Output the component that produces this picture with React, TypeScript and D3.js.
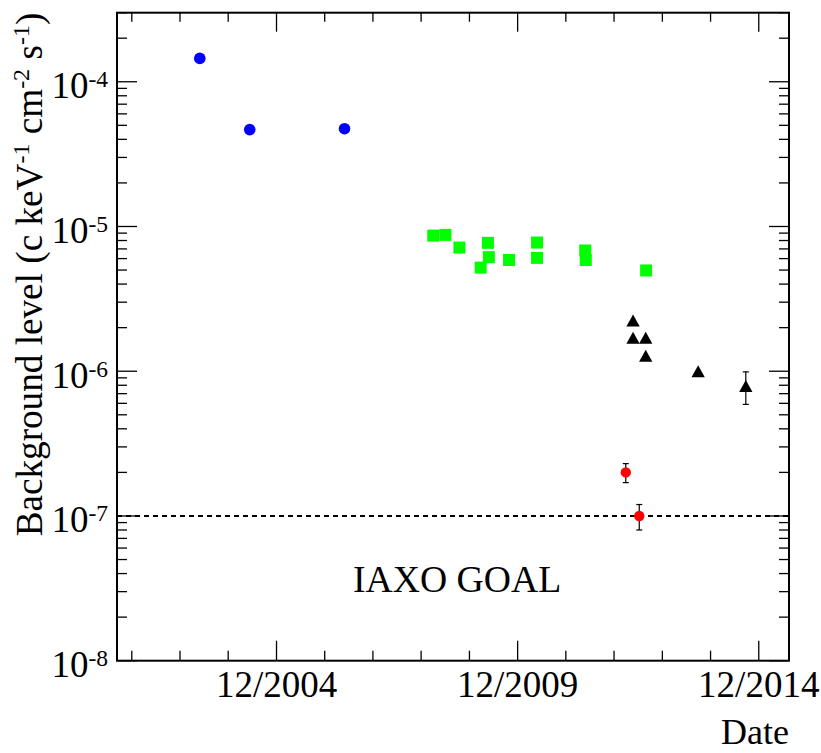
import React from "react";
import * as d3 from "d3";

// ---- data ----
const blueDates = ["2003-04-30", "2004-05-12", "2006-04-30"];
const blueValues = [1.45e-4, 4.67e-5, 4.74e-5];

const greenDates = [
  "2008-03-02", "2008-06-02", "2008-09-16", "2009-04-20", "2009-04-27", "2009-02-24",
  "2009-09-27", "2010-04-27", "2010-04-27", "2011-04-27", "2011-05-01", "2012-07-31",
];
const greenValues = [
  8.65e-6, 8.75e-6, 7.15e-6, 7.71e-6, 6.14e-6, 5.2e-6,
  5.87e-6, 7.75e-6, 6.07e-6, 6.83e-6, 5.87e-6, 4.97e-6,
];

const blackDates = ["2012-04-23", "2012-04-23", "2012-07-28", "2012-07-28", "2013-08-29", "2014-08-25"];
const blackValues = [2.24e-6, 1.7e-6, 1.7e-6, 1.28e-6, 1.0e-6, 7.9e-7];
const blackErrors = [0, 0, 0, 0, 0, 2.0e-7];

const redDates = ["2012-02-28", "2012-06-09"];
const redValues = [2.0e-7, 1.0e-7];
const redErrors = [3.0e-8, 2.0e-8];

const goalValue = 1e-7;
const goalLabel = "IAXO GOAL";

const xDomainDates = ["2001-08-11", "2015-07-18"];
const yDomainValues = [1e-8, 3e-4];

const xMajorTickDates = ["2004-12-01", "2009-12-01", "2014-12-01"];
const xMajorTickLabels = ["12/2004", "12/2009", "12/2014"];
const xMinorTickYears = [2001, 2002, 2003, 2005, 2006, 2007, 2008, 2010, 2011, 2012, 2013];
const yDecadeExponents = [-8, -7, -6, -5, -4];

const xTitle = "Date";

// ---- layout ----
const W = 821;
const H = 753;
const L = 117;
const R = 789;
const T = 12.7;
const B = 660.7;
const FONT = "'Liberation Serif', 'Times New Roman', serif";

export default function App() {
  const parse = d3.timeParse("%Y-%m-%d");
  const x = d3
    .scaleTime()
    .domain(xDomainDates.map((d) => parse(d) as Date))
    .range([L, R]);
  const y = d3.scaleLog().domain(yDomainValues).range([B, T]);

  // y minor ticks
  const yMinor: number[] = [];
  for (const e of [-8, -7, -6, -5, -4]) {
    for (let m = 2; m <= 9; m++) {
      const v = m * Math.pow(10, e);
      if (v <= yDomainValues[1] * 1.0001) yMinor.push(v);
    }
  }

  const xMaj = xMajorTickDates.map((d) => x(parse(d) as Date));
  const xMin = xMinorTickYears.map((yr) => x(new Date(yr, 11, 1)));

  const tickStroke = 1.3;
  const majLen = 20;
  const minLen = 10;

  const tri = (cx: number, cy: number, w: number, h: number) =>
    `M${cx - w / 2},${cy + h / 2}L${cx + w / 2},${cy + h / 2}L${cx},${cy - h / 2}Z`;

  const errBar = (cx: number, v: number, e: number, key: string) => {
    if (!e) return null;
    const y1 = y(v + e);
    const y2 = y(v - e);
    return (
      <g key={key} stroke="#000" strokeWidth={1.2}>
        <line x1={cx} x2={cx} y1={y1} y2={y2} />
        <line x1={cx - 3} x2={cx + 3} y1={y1} y2={y1} />
        <line x1={cx - 3} x2={cx + 3} y1={y2} y2={y2} />
      </g>
    );
  };

  return (
    <svg
      width={W}
      height={H}
      style={{ position: "absolute", left: 0, top: 0, display: "block", background: "#fff" }}
      fontFamily={FONT}
    >
      <rect x={0} y={0} width={W} height={H} fill="#fff" />

      {/* goal line */}
      <line
        x1={L}
        x2={R}
        y1={y(goalValue)}
        y2={y(goalValue)}
        stroke="#000"
        strokeWidth={2}
        strokeDasharray="5,4"
      />
      <text x={353} y={592} fontSize={37.7} fill="#000">
        {goalLabel}
      </text>

      {/* blue circles */}
      {blueDates.map((d, i) => (
        <circle key={"b" + i} cx={x(parse(d) as Date)} cy={y(blueValues[i])} r={5.8} fill="#0000ff" />
      ))}

      {/* green squares */}
      {greenDates.map((d, i) => {
        const cx = x(parse(d) as Date);
        const cy = y(greenValues[i]);
        return <rect key={"g" + i} x={cx - 6} y={cy - 6} width={12} height={12} fill="#00ff00" />;
      })}

      {/* black triangles */}
      {blackDates.map((d, i) => {
        const cx = x(parse(d) as Date);
        return errBar(cx, blackValues[i], blackErrors[i], "be" + i);
      })}
      {blackDates.map((d, i) => {
        const cx = x(parse(d) as Date);
        const cy = y(blackValues[i]);
        return <path key={"k" + i} d={tri(cx, cy, 13.3, 12)} fill="#000" />;
      })}

      {/* red circles */}
      {redDates.map((d, i) => {
        const cx = x(parse(d) as Date);
        return errBar(cx, redValues[i], redErrors[i], "re" + i);
      })}
      {redDates.map((d, i) => (
        <circle key={"r" + i} cx={x(parse(d) as Date)} cy={y(redValues[i])} r={5.2} fill="#ff0000" />
      ))}

      {/* ticks */}
      <g stroke="#000" strokeWidth={tickStroke}>
        {xMaj.map((px, i) => (
          <g key={"xm" + i}>
            <line x1={px} x2={px} y1={B} y2={B - majLen} />
            <line x1={px} x2={px} y1={T} y2={T + majLen - 1} />
          </g>
        ))}
        {xMin.map((px, i) => (
          <g key={"xn" + i}>
            <line x1={px} x2={px} y1={B} y2={B - minLen} />
            <line x1={px} x2={px} y1={T} y2={T + minLen - 1} />
          </g>
        ))}
        {yDecadeExponents.map((e) => {
          const py = y(Math.pow(10, e));
          return (
            <g key={"ym" + e}>
              <line x1={L} x2={L + majLen} y1={py} y2={py} />
              <line x1={R} x2={R - majLen} y1={py} y2={py} />
            </g>
          );
        })}
        {yMinor.map((v, i) => {
          const py = y(v);
          return (
            <g key={"yn" + i}>
              <line x1={L} x2={L + minLen} y1={py} y2={py} />
              <line x1={R} x2={R - minLen} y1={py} y2={py} />
            </g>
          );
        })}
      </g>

      {/* frame */}
      <rect x={L} y={T} width={R - L} height={B - T} fill="none" stroke="#000" strokeWidth={2} />

      {/* x tick labels */}
      {xMaj.map((px, i) => (
        <text key={"xl" + i} x={px} y={696.7} fontSize={37} textAnchor="middle" fill="#000">
          {xMajorTickLabels[i]}
        </text>
      ))}

      {/* y tick labels */}
      {yDecadeExponents.map((e) => {
        const py = y(Math.pow(10, e));
        return (
          <text key={"yl" + e} x={108} y={py + 16.5} fontSize={37} textAnchor="end" fill="#000">
            10
            <tspan fontSize={23.5} dy={-11}>
              {String(e)}
            </tspan>
          </text>
        );
      })}

      {/* axis titles */}
      <text x={R} y={744} fontSize={36} textAnchor="end" fill="#000">
        {xTitle}
      </text>
      <text
        transform={`translate(42,${T}) rotate(-90)`}
        fontSize={37.2}
        textAnchor="end"
        fill="#000"
      >
        Background level (c keV
        <tspan fontSize={24} dy={-13}>-1</tspan>
        <tspan dy={13}> cm</tspan>
        <tspan fontSize={24} dy={-13}>-2</tspan>
        <tspan dy={13}> s</tspan>
        <tspan fontSize={24} dy={-13}>-1</tspan>
        <tspan dy={13}>)</tspan>
      </text>
    </svg>
  );
}
